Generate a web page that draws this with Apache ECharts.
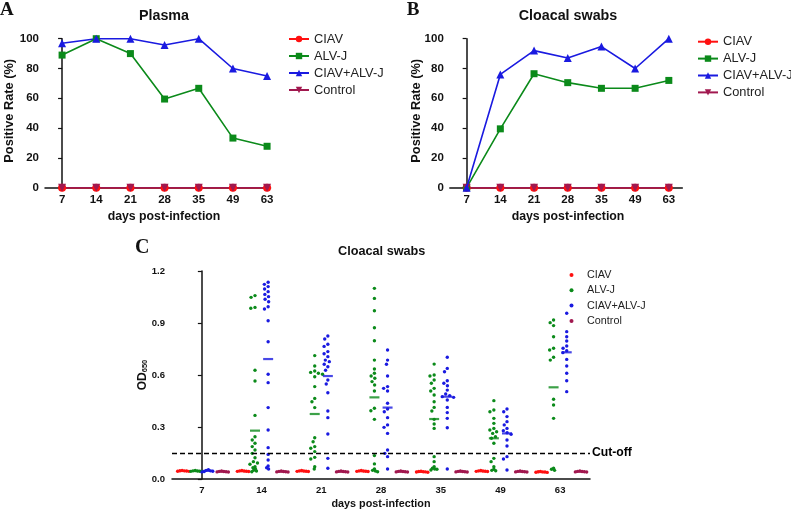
<!DOCTYPE html>
<html><head><meta charset="utf-8">
<script src="https://cdn.jsdelivr.net/npm/echarts@6/dist/echarts.min.js"></script>
<style>html,body{margin:0;padding:0;background:#fff}#c{width:791px;height:510px}</style>
</head><body><div id="c"></div>
<script>
// ---------- DATA ----------
const days = ['7', '14', '21', '28', '35', '49', '63'];
const groups = ['CIAV', 'ALV-J', 'CIAV+ALV-J', 'Control'];

// Panel A: Plasma positive rate (%)
const plasmaCIAV    = [0, 0, 0, 0, 0, 0, 0];
const plasmaALVJ    = [89, 100, 90, 59.5, 66.7, 33.3, 27.8];
const plasmaCoinf   = [97, 100, 100, 95.8, 100, 80, 75];
const plasmaControl = [0, 0, 0, 0, 0, 0, 0];

// Panel B: Cloacal swabs positive rate (%)
const swabCIAV    = [0, 0, 0, 0, 0, 0, 0];
const swabALVJ    = [0, 39.5, 76.5, 70.5, 66.7, 66.7, 72];
const swabCoinf   = [0, 76, 92, 87, 94.7, 80, 100];
const swabControl = [0, 0, 0, 0, 0, 0, 0];

// Panel C: OD650 of cloacal swabs, one list per day
const odCIAV = [
  [0.050, 0.048, 0.047, 0.046, 0.045, 0.044],
  [0.049, 0.047, 0.046, 0.045, 0.044, 0.043],
  [0.049, 0.047, 0.046, 0.045, 0.044, 0.043],
  [0.049, 0.047, 0.046, 0.045, 0.044, 0.043],
  [0.045, 0.043, 0.042, 0.041, 0.040, 0.039],
  [0.049, 0.047, 0.046, 0.045, 0.044, 0.043],
  [0.044, 0.042, 0.041, 0.040, 0.039, 0.038]
];
const odALVJ = [
  [0.049, 0.047, 0.046, 0.045, 0.044, 0.043],
  [1.058, 1.048, 0.990, 0.985, 0.627, 0.565, 0.367, 0.244, 0.225, 0.206, 0.187, 0.167, 0.148, 0.123, 0.100, 0.092, 0.085, 0.071, 0.065, 0.058, 0.050, 0.046, 0.042],
  [0.712, 0.652, 0.623, 0.615, 0.610, 0.604, 0.590, 0.533, 0.465, 0.446, 0.412, 0.238, 0.215, 0.187, 0.177, 0.158, 0.125, 0.115, 0.071, 0.058],
  [1.100, 1.042, 0.971, 0.873, 0.798, 0.686, 0.635, 0.610, 0.594, 0.581, 0.562, 0.542, 0.508, 0.408, 0.394, 0.344, 0.135, 0.087, 0.058, 0.050, 0.046, 0.042],
  [0.663, 0.600, 0.594, 0.571, 0.552, 0.523, 0.508, 0.485, 0.446, 0.413, 0.392, 0.344, 0.317, 0.292, 0.129, 0.100, 0.071, 0.062, 0.058, 0.056, 0.052],
  [0.452, 0.398, 0.388, 0.350, 0.321, 0.292, 0.283, 0.273, 0.263, 0.244, 0.235, 0.206, 0.119, 0.100, 0.071, 0.056, 0.050, 0.048],
  [0.917, 0.902, 0.885, 0.821, 0.754, 0.744, 0.702, 0.686, 0.460, 0.427, 0.350, 0.062, 0.056, 0.050]
];
const odCoinf = [
  [0.053, 0.050, 0.047, 0.045, 0.043, 0.041],
  [1.135, 1.123, 1.110, 1.096, 1.081, 1.065, 1.052, 1.037, 1.023, 0.994, 0.981, 0.913, 0.792, 0.604, 0.556, 0.412, 0.283, 0.181, 0.142, 0.110, 0.075, 0.065, 0.058],
  [0.825, 0.808, 0.777, 0.765, 0.735, 0.723, 0.706, 0.686, 0.677, 0.662, 0.648, 0.627, 0.571, 0.548, 0.498, 0.392, 0.354, 0.260, 0.119, 0.062],
  [0.744, 0.686, 0.662, 0.594, 0.533, 0.523, 0.508, 0.437, 0.404, 0.388, 0.354, 0.312, 0.298, 0.263, 0.167, 0.148, 0.129, 0.058],
  [0.702, 0.638, 0.619, 0.567, 0.552, 0.538, 0.513, 0.490, 0.481, 0.475, 0.471, 0.456, 0.413, 0.383, 0.350, 0.296, 0.058],
  [0.404, 0.388, 0.360, 0.331, 0.312, 0.292, 0.279, 0.267, 0.258, 0.225, 0.190, 0.129, 0.115, 0.052],
  [0.956, 0.850, 0.821, 0.796, 0.767, 0.754, 0.740, 0.729, 0.690, 0.652, 0.610, 0.567, 0.504]
];
const odControl = [
  [0.046, 0.044, 0.043, 0.042, 0.041, 0.040],
  [0.046, 0.044, 0.043, 0.042, 0.041, 0.040],
  [0.046, 0.044, 0.043, 0.042, 0.041, 0.040],
  [0.046, 0.044, 0.043, 0.042, 0.041, 0.040],
  [0.046, 0.044, 0.043, 0.042, 0.041, 0.040],
  [0.046, 0.044, 0.043, 0.042, 0.041, 0.040],
  [0.046, 0.044, 0.043, 0.042, 0.041, 0.040]
];
// group centre lines
const meanCIAV    = [0.046, 0.045, 0.045, 0.045, 0.041, 0.045, 0.040];
const meanALVJ    = [0.046, 0.279, 0.375, 0.471, 0.346, 0.235, 0.529];
const meanCoinf   = [0.047, 0.692, 0.594, 0.412, 0.475, 0.263, 0.731];
const meanControl = [0.042, 0.042, 0.042, 0.042, 0.042, 0.042, 0.042];
const cutoff = 0.15;
const yTicksRate = [0, 100, 20];   // min, max, step
const yTicksOD = [0, 1.2, 0.3];

// ---------- STYLE ----------
const COL = { 'CIAV': '#ff1010', 'ALV-J': '#0b8a1a', 'CIAV+ALV-J': '#1a1ae0', 'Control': '#a1184f' };
const SYM = { 'CIAV': ['circle', 0], 'ALV-J': ['rect', 0], 'CIAV+ALV-J': ['triangle', 0], 'Control': ['triangle', 180] };
const SANS = '"Liberation Sans", Arial, sans-serif';
const groupOffset = [-0.33, -0.11, 0.11, 0.33];

const chart = echarts.init(document.getElementById('c'), null, { renderer: 'canvas' });
const idx = days.map((d, i) => i);

function xAxisDef(gi, max, fs, withTick) {
  return {
    type: 'value', gridIndex: gi, min: -0.5, max: max,
    axisLine: { show: true, onZero: false, lineStyle: { color: '#111', width: 1.5 } },
    axisTick: { show: withTick, customValues: idx, length: 3, lineStyle: { color: '#111', width: 1.2 } },
    axisLabel: { customValues: idx, formatter: v => days[Math.round(v)], fontFamily: SANS, fontWeight: 'bold', fontSize: fs, color: '#111', margin: 6 },
    splitLine: { show: false }
  };
}
function yAxisDef(gi, t, fs, fmt, margin) {
  return {
    type: 'value', gridIndex: gi, min: t[0], max: t[1], interval: t[2],
    axisLine: { show: true, lineStyle: { color: '#111', width: 1.5 } },
    axisTick: { show: true, length: 4, lineStyle: { color: '#111', width: 1.2 } },
    axisLabel: { fontFamily: SANS, fontWeight: 'bold', fontSize: fs, color: '#111', margin: margin, formatter: fmt },
    splitLine: { show: false }
  };
}
function rateSeries(name, vals, gi, z) {
  return {
    type: 'line', name: name, xAxisIndex: gi, yAxisIndex: gi, z: z,
    data: vals.map((v, i) => [i, v]),
    symbol: SYM[name][0], symbolRotate: SYM[name][1], symbolSize: name === 'ALV-J' ? 7 : 8,
    color: COL[name], itemStyle: { color: COL[name] },
    lineStyle: { color: COL[name], width: 1.6 }, clip: false
  };
}

const legendText = { fontFamily: SANS, fontSize: 12.8, color: '#222', lineHeight: 15 };
const T = (text, x, y, font, rot, align) => ({
  type: 'text', x: x, y: y, rotation: rot || 0,
  style: { text: text, font: font, fill: '#111', align: align || 'center', verticalAlign: 'middle' }
});

const baseOption = {
  animation: false,
  backgroundColor: '#fff',
  grid: [
    { left: 45, top: 38.7, width: 225.5, height: 149 },
    { left: 449.8, top: 38.7, width: 232.5, height: 149 },
    { left: 172, top: 271, width: 418, height: 208 }
  ],
  xAxis: [xAxisDef(0, 6.1, 11.5, true), xAxisDef(1, 6.4, 11.5, true), xAxisDef(2, 6.5, 9.5, false)],
  yAxis: [
    yAxisDef(0, yTicksRate, 11.5, null, 6),
    yAxisDef(1, yTicksRate, 11.5, null, 6),
    yAxisDef(2, yTicksOD, 9.5, v => v.toFixed(1), 7)
  ],
  legend: [
    { orient: 'vertical', left: 288, top: 31.5, padding: 0, itemWidth: 20, itemHeight: 8, itemGap: 2, data: groups, textStyle: legendText, selectedMode: false },
    { orient: 'vertical', left: 697, top: 34.2, padding: 0, itemWidth: 20, itemHeight: 8, itemGap: 1.9, data: groups, textStyle: legendText, selectedMode: false },
    { orient: 'vertical', left: 569.5, top: 268.5, padding: 0, itemWidth: 21, itemHeight: 4, itemGap: 2.3, icon: 'circle',
      data: groups.map(g => 'C_' + g), formatter: n => n.slice(2), selectedMode: false,
      textStyle: { fontFamily: SANS, fontSize: 10.8, color: '#222', lineHeight: 13 } }
  ],
  graphic: [
    T('A', 0, 10.5, 'bold 19px "Liberation Serif", serif', 0, 'left'),
    T('B', 406.7, 10.5, 'bold 19px "Liberation Serif", serif', 0, 'left'),
    T('C', 135, 247.5, 'bold 20px "Liberation Serif", serif', 0, 'left'),
    T('Plasma', 164, 16, 'bold 14.3px ' + SANS),
    T('Cloacal swabs', 568, 16, 'bold 14.3px ' + SANS),
    T('Cloacal swabs', 381.7, 251, 'bold 12.7px ' + SANS),
    T('days post-infection', 164, 216.7, 'bold 12.3px ' + SANS),
    T('days post-infection', 568, 216.7, 'bold 12.3px ' + SANS),
    T('days post-infection', 381, 504, 'bold 10.8px ' + SANS),
    T('Positive Rate (%)', 9.5, 110.8, 'bold 12.8px ' + SANS, Math.PI / 2),
    T('Positive Rate (%)', 416.7, 110.8, 'bold 12.8px ' + SANS, Math.PI / 2),
    {
      type: 'text', x: 142, y: 375, rotation: Math.PI / 2,
      style: {
        text: '{a|OD}{b|650}', fill: '#111', align: 'center', verticalAlign: 'middle',
        rich: {
          a: { font: 'bold 12px ' + SANS, fill: '#111', lineHeight: 14, verticalAlign: 'bottom' },
          b: { font: 'bold 7.5px ' + SANS, fill: '#111', lineHeight: 14, verticalAlign: 'bottom', padding: [4, 0, 0, 0] }
        }
      }
    }
  ],
  series: []
};

chart.setOption(baseOption);

// pixel scale of panel C, obtained from the library's axes
const p0 = chart.convertToPixel({ gridIndex: 2 }, [0, 0]);
const p1 = chart.convertToPixel({ gridIndex: 2 }, [1, 1]);
const pxPerX = p1[0] - p0[0];
const pxPerY = p0[1] - p1[1];

// deterministic beeswarm: spread overlapping dots sideways (pixel space)
function swarm(vals) {
  const dia = v => (v < 0.07 ? 2.3 : 4.3);
  const order = vals.map((v, i) => i).sort((a, b) => vals[b] - vals[a]);
  const placed = [], out = new Array(vals.length);
  for (const i of order) {
    const y = vals[i] * pxPerY;
    const forb = [];
    for (const p of placed) {
      const dd = Math.min(dia(vals[i]), p.d);
      const dy = Math.abs(p.y - y);
      if (dy < dd) { const w = Math.sqrt(dd * dd - dy * dy); forb.push([p.x - w, p.x + w]); }
    }
    const cands = [0];
    forb.forEach(f => cands.push(f[0], f[1]));
    cands.sort((a, b) => Math.abs(a) - Math.abs(b));
    let x = 0;
    for (const c of cands) {
      if (forb.every(f => c <= f[0] + 1e-6 || c >= f[1] - 1e-6)) { x = c; break; }
    }
    placed.push({ x: x, y: y, d: dia(vals[i]) });
    out[i] = x;
  }
  return out;
}

const odSets = [odCIAV, odALVJ, odCoinf, odControl];
const meanSets = [meanCIAV, meanALVJ, meanCoinf, meanControl];
const rateA = { 'CIAV': plasmaCIAV, 'ALV-J': plasmaALVJ, 'CIAV+ALV-J': plasmaCoinf, 'Control': plasmaControl };
const rateB = { 'CIAV': swabCIAV, 'ALV-J': swabALVJ, 'CIAV+ALV-J': swabCoinf, 'Control': swabControl };
const series = [];
groups.forEach(g => series.push(rateSeries(g, rateA[g], 0, 2)));
groups.forEach(g => series.push(rateSeries(g, rateB[g], 1, g === 'CIAV+ALV-J' ? 4 : 2)));

groups.forEach((g, gi) => {
  const pts = [];
  odSets[gi].forEach((vals, d) => {
    const offs = swarm(vals);
    vals.forEach((v, k) => pts.push([d + groupOffset[gi] + offs[k] / pxPerX, v]));
  });
  series.push({
    type: 'scatter', name: 'C_' + g, xAxisIndex: 2, yAxisIndex: 2, z: 3,
    data: pts, symbol: 'circle', symbolSize: 3.4, itemStyle: { color: COL[g], opacity: 1 }, color: COL[g]
  });
  const ms = {
    type: 'scatter', name: 'M_' + g, xAxisIndex: 2, yAxisIndex: 2, z: 4,
    data: meanSets[gi].map((m, d) => [d + groupOffset[gi], m]),
    symbol: 'rect', symbolSize: [10, 2.2], itemStyle: { color: COL[g] }
  };
  if (g === 'ALV-J') {
    ms.markLine = {
      silent: true, symbol: ['none', 'none'], animation: false,
      lineStyle: { color: '#000', type: [5, 3], width: 1.4 },
      label: { show: true, position: 'end', formatter: 'Cut-off', color: '#000', fontFamily: SANS, fontWeight: 'bold', fontSize: 12.2, distance: 2 },
      data: [{ yAxis: cutoff }]
    };
  }
  series.push(ms);
});

chart.setOption({ series: series });
</script></body></html>
